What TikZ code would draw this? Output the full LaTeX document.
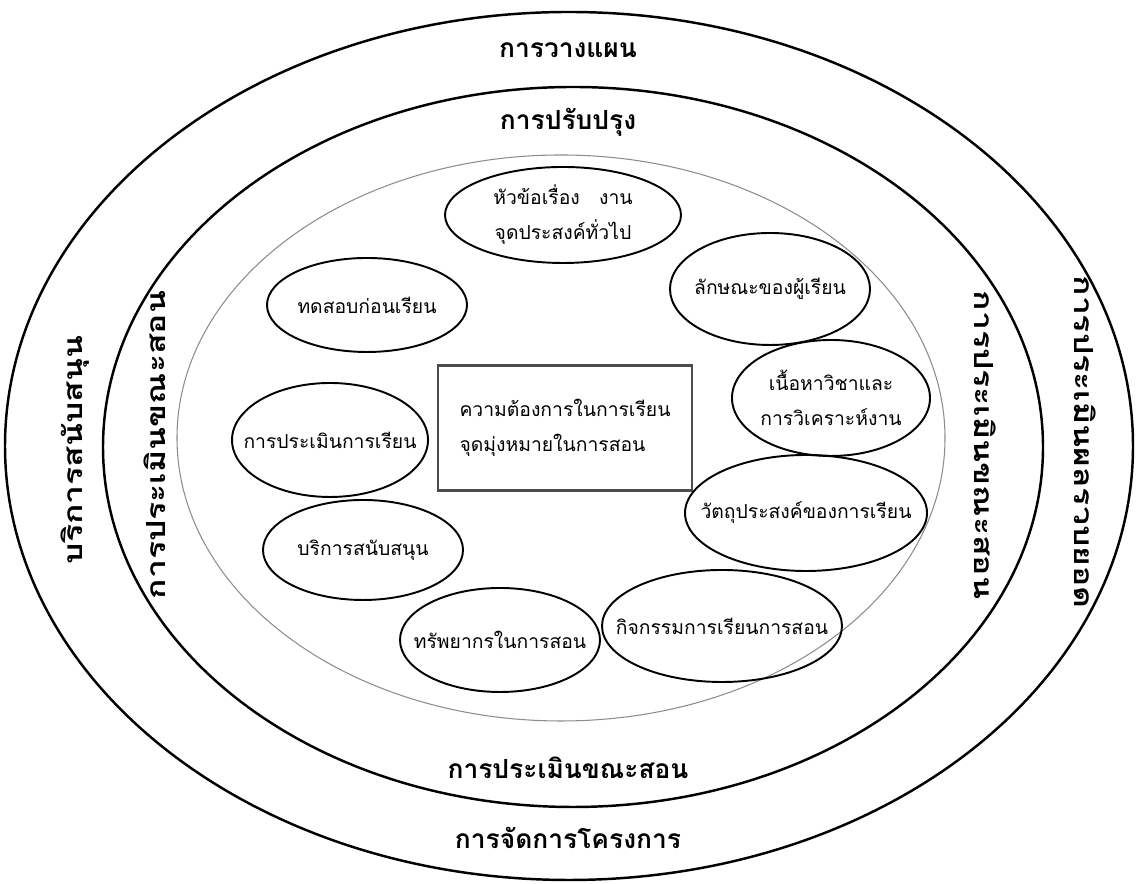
\documentclass[tikz,border=0pt]{standalone}
\usepackage{fontspec}
\newfontfamily\thaifont[Script=Thai]{Loma}
\usetikzlibrary{shapes.geometric,positioning}
\newcommand{\widen}[1]{\scalebox{1.28}[1]{#1}}

\begin{document}
\begin{tikzpicture}[x=0.02cm,y=0.02cm,
    ring/.style={line width=1.4pt},
    guide/.style={draw=black!45,line width=0.6pt},
    stage/.style={ellipse,draw,line width=1.1pt,inner sep=0pt},
    stagetext/.style={align=center,inner sep=0pt,
        font=\thaifont\fontsize{11}{20}\selectfont},
    core/.style={rectangle,draw=black!70,line width=1.2pt,align=left,
        font=\thaifont\fontsize{11}{20}\selectfont},
    phase/.style={font=\thaifont\bfseries\fontsize{15}{18}\selectfont}]
    \useasboundingbox (0,0) rectangle (1136,884);

    % Rings
    \draw[ring] (569,438) ellipse [x radius=564, y radius=434];
    \draw[ring] (573,437) ellipse [x radius=470, y radius=360];
    \draw[guide] (561,446) ellipse [x radius=384, y radius=283];

    % Ring labels
    \node[phase] (plan) at (568,834) {การวางแผน};
    \node[phase] (revise) at (568,762) {การปรับปรุง};
    \node[phase] (formbot) at (568,116) {การประเมินขณะสอน};
    \node[phase] (manage) at (568,46) {การจัดการโครงการ};
    \node[phase,rotate=90] (supportring) at (75,434) {\widen{บริการสนับสนุน}};
    \node[phase,rotate=90] (formleft) at (155,439) {\widen{การประเมินขณะสอน}};
    \node[phase,rotate=-90] (formright) at (985,439) {\widen{การประเมินขณะสอน}};
    \node[phase,rotate=-90] (summative) at (1085,442) {\widen{การประเมินผลรวบยอด}};

    % Centre
    \node[core,minimum width=254*0.02cm,minimum height=125*0.02cm] (needs) at (565,456)
        {ความต้องการในการเรียน\\จุดมุ่งหมายในการสอน};

    % Stages
    \node[stage,minimum width=236*0.02cm,minimum height=96*0.02cm] (topic) at (563,669) {};
    \node[stagetext] (topic-t) at (topic) {หัวข้อเรื่อง\quad งาน\\จุดประสงค์ทั่วไป};
    \node[stage,minimum width=200*0.02cm,minimum height=112*0.02cm] (learner) at (770,595) {};
    \node[stagetext] (learner-t) at (learner) {ลักษณะของผู้เรียน};
    \node[stage,minimum width=198*0.02cm,minimum height=116*0.02cm] (content) at (831,486) {};
    \node[stagetext] (content-t) at (content) {เนื้อหาวิชาและ\\การวิเคราะห์งาน};
    \node[stage,minimum width=242*0.02cm,minimum height=116*0.02cm] (objective) at (806,371) {};
    \node[stagetext] (objective-t) at (objective) {วัตถุประสงค์ของการเรียน};
    \node[stage,minimum width=240*0.02cm,minimum height=112*0.02cm] (activity) at (722,258) {};
    \node[stagetext] (activity-t) at (activity) {กิจกรรมการเรียนการสอน};
    \node[stage,minimum width=200*0.02cm,minimum height=104*0.02cm] (resource) at (500,244) {};
    \node[stagetext] (resource-t) at (resource) {ทรัพยากรในการสอน};
    \node[stage,minimum width=200*0.02cm,minimum height=100*0.02cm] (service) at (363,334) {};
    \node[stagetext] (service-t) at (service) {บริการสนับสนุน};
    \node[stage,minimum width=196*0.02cm,minimum height=114*0.02cm] (assess) at (330,444) {};
    \node[stagetext] (assess-t) at (assess) {การประเมินการเรียน};
    \node[stage,minimum width=200*0.02cm,minimum height=94*0.02cm] (pretest) at (367,579) {};
    \node[stagetext] (pretest-t) at (pretest) {ทดสอบก่อนเรียน};
\end{tikzpicture}
\end{document}
